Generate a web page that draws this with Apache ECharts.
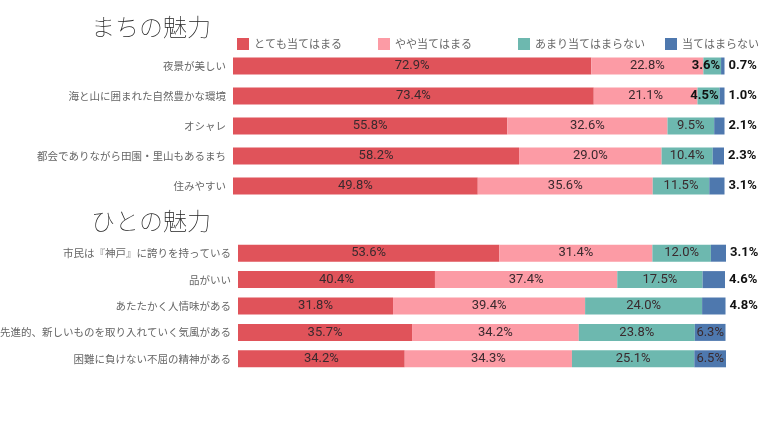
<!DOCTYPE html>
<html>
<head>
<meta charset="utf-8">
<script src="https://cdn.jsdelivr.net/npm/echarts@6/dist/echarts.min.js"></script>
<style>
  html, body { margin: 0; padding: 0; background: #fff; }
  #main { width: 760px; height: 428px; }
</style>
</head>
<body>
<div id="main"></div>
<script>
// 凡例
var legendNames = ["とても当てはまる", "やや当てはまる", "あまり当てはまらない", "当てはまらない"];
var colors = ["#E0535A", "#FC9BA5", "#6DB8AF", "#4E78AE"];
var legendLeft = [232, 373, 513, 660];

// まちの魅力
var machiCats = ["夜景が美しい", "海と山に囲まれた自然豊かな環境", "オシャレ", "都会でありながら田園・里山もあるまち", "住みやすい"];
var machiVery = [72.9, 73.4, 55.8, 58.2, 49.8];
var machiSome = [22.8, 21.1, 32.6, 29.0, 35.6];
var machiLittle = [3.6, 4.5, 9.5, 10.4, 11.5];
var machiNot = [0.7, 1.0, 2.1, 2.3, 3.1];

// ひとの魅力
var hitoCats = ["市民は『神戸』に誇りを持っている", "品がいい", "あたたかく人情味がある", "先進的、新しいものを取り入れていく気風がある", "困難に負けない不屈の精神がある"];
var hitoVery = [53.6, 40.4, 31.8, 35.7, 34.2];
var hitoSome = [31.4, 37.4, 39.4, 34.2, 34.3];
var hitoLittle = [12.0, 17.5, 24.0, 23.8, 25.1];
var hitoNot = [3.1, 4.6, 4.8, 6.3, 6.5];

var numFont = "Roboto, sans-serif";
var jpFont = "'Noto Sans CJK JP', sans-serif";

function fmt(p) {
  return p.value.toFixed(1) + "%";
}

// 小さい値はラベルを外に（太字）
function buildData(arr, idx) {
  return arr.map(function (v) {
    var item = { value: v };
    if (idx === 2 && v < 5) {
      item.label = { position: "insideRight", fontWeight: "bold", color: "#111", distance: 1 };
    }
    if (idx === 3 && v < 6) {
      item.label = { position: "right", fontWeight: "bold", color: "#111", distance: 4 };
    }
    return item;
  });
}

function makeSeries(arrs, gridIdx) {
  return arrs.map(function (arr, i) {
    return {
      name: legendNames[i],
      type: "bar",
      stack: "g" + gridIdx,
      xAxisIndex: gridIdx,
      yAxisIndex: gridIdx,
      barWidth: 17,
      itemStyle: { color: colors[i] },
      label: {
        show: true,
        position: "inside",
        formatter: fmt,
        color: "#3a2a2e",
        fontSize: 13,
        fontFamily: numFont
      },
      data: buildData(arr, i)
    };
  });
}

var series = makeSeries([machiVery, machiSome, machiLittle, machiNot], 0)
  .concat(makeSeries([hitoVery, hitoSome, hitoLittle, hitoNot], 1));

function catAxis(cats, gi) {
  return {
    type: "category",
    gridIndex: gi,
    data: cats,
    inverse: true,
    axisLine: { show: false },
    axisTick: { show: false },
    axisLabel: { color: "#666", fontSize: 10.5, fontFamily: jpFont, margin: 7 }
  };
}

function valAxis(gi) {
  return {
    type: "value",
    gridIndex: gi,
    min: 0,
    max: 100.1,
    show: false
  };
}

// 凡例は1項目ずつ配置
var legends = legendNames.map(function (name, i) {
  return {
    data: [name],
    left: legendLeft[i],
    top: 33,
    icon: "rect",
    itemWidth: 12,
    itemHeight: 12,
    textStyle: { color: "#666", fontSize: 11, fontFamily: jpFont }
  };
});

var option = {
  backgroundColor: "#fff",
  animation: false,
  title: [
    {
      text: "まちの魅力",
      left: 86,
      top: 10,
      textStyle: { fontSize: 24, fontWeight: "lighter", color: "#222", fontFamily: jpFont }
    },
    {
      text: "ひとの魅力",
      left: 86,
      top: 204,
      textStyle: { fontSize: 24, fontWeight: "lighter", color: "#222", fontFamily: jpFont }
    }
  ],
  legend: legends,
  grid: [
    { left: 233, right: 35, top: 51, height: 150, containLabel: false, outerBoundsMode: "none" },
    { left: 238, right: 34, top: 240, height: 132, containLabel: false, outerBoundsMode: "none" }
  ],
  xAxis: [valAxis(0), valAxis(1)],
  yAxis: [catAxis(machiCats, 0), catAxis(hitoCats, 1)],
  series: series
};

var myChart = echarts.init(document.getElementById("main"));
myChart.setOption(option);
</script>
</body>
</html>
